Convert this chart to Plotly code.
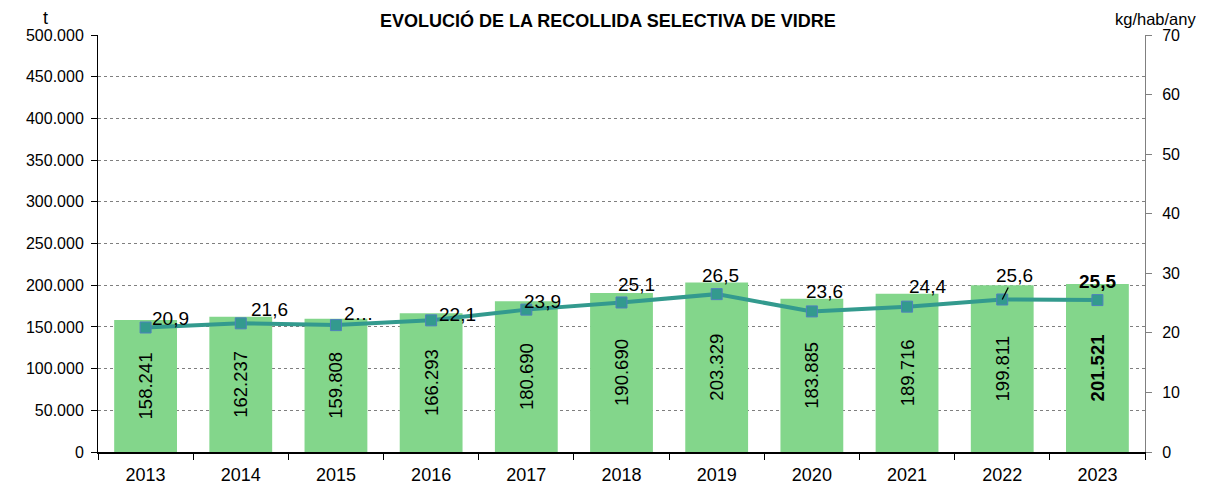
import plotly.graph_objects as go

years = ["2013", "2014", "2015", "2016", "2017", "2018", "2019", "2020", "2021", "2022", "2023"]
tonnes = [158241, 162237, 159808, 166293, 180690, 190690, 203329, 183885, 189716, 199811, 201521]
tonnes_labels = ["158.241", "162.237", "159.808", "166.293", "180.690", "190.690", "203.329",
                 "183.885", "189.716", "199.811", "<b>201.521</b>"]
kg_hab = [20.9, 21.6, 21.3, 22.1, 23.9, 25.1, 26.5, 23.6, 24.4, 25.6, 25.5]
kg_labels = ["20,9", "21,6", "2…", "22,1", "23,9", "25,1", "26,5", "23,6", "24,4", "25,6", "<b>25,5</b>"]

# label placement offsets (pixels) relative to each marker
label_dx = [25, 29, 23, 26, 16, 15, 4, 13, 20, 12, 0]
label_dy = [9, 14, 12, 6, 8, 18, 19, 20, 20, 24, 19]
label_leader = [False] * 9 + [True, False]

fig = go.Figure()
fig.add_trace(go.Bar(
    x=years, y=tonnes, text=tonnes_labels, textposition="inside",
    insidetextanchor="middle", textangle=-90,
    textfont=dict(family="Arial", size=18.5, color="black"),
    marker=dict(color="#83D68B", line=dict(width=0)), width=0.66,
    yaxis="y", showlegend=False, cliponaxis=False))
fig.add_trace(go.Scatter(
    x=years, y=kg_hab, mode="lines+markers",
    line=dict(color="#339A8E", width=4),
    marker=dict(symbol="square", size=11, color="#339A8E", line=dict(color="#4F81BD", width=1)),
    yaxis="y2", showlegend=False, cliponaxis=False))

for i, (yr, v, lab) in enumerate(zip(years, kg_hab, kg_labels)):
    if label_leader[i]:
        fig.add_annotation(x=i, y=v, xref="x", yref="y2", text=lab,
                           showarrow=True, arrowhead=0, arrowwidth=1.3, arrowcolor="black",
                           standoff=0, ax=label_dx[i], ay=-label_dy[i],
                           font=dict(family="Arial", size=19, color="black"))
    else:
        fig.add_annotation(x=i, y=v, xref="x", yref="y2", text=lab, showarrow=False,
                           xanchor="center", yanchor="middle",
                           xshift=label_dx[i], yshift=label_dy[i],
                           font=dict(family="Arial", size=19, color="black"))

fig.add_annotation(x=0.487, y=1.0, xref="paper", yref="paper", yshift=27,
                   text="<b>EVOLUCIÓ DE LA RECOLLIDA SELECTIVA DE VIDRE</b>",
                   showarrow=False, xanchor="center", yanchor="top",
                   font=dict(family="Arial", size=18, color="black"))
fig.add_annotation(x=-0.05, y=1.0, xref="paper", yref="paper", yshift=29,
                   text="t", showarrow=False, xanchor="center", yanchor="top",
                   font=dict(family="Arial", size=18, color="black"))
fig.add_annotation(x=1.0105, y=1.0, xref="paper", yref="paper", yshift=27,
                   text="kg/hab/any", showarrow=False, xanchor="center", yanchor="top",
                   font=dict(family="Arial", size=16.5, color="black"))

fig.update_layout(
    width=1222, height=478,
    margin=dict(l=90, r=85, t=27, b=34, autoexpand=False),
    paper_bgcolor="white", plot_bgcolor="white",
    separators=",.",
    font=dict(family="Arial", size=16, color="black"),
    xaxis=dict(type="category", range=[-0.5, 10.5], tickson="boundaries", ticks="outside", ticklen=6,
               tickcolor="black", showline=True, linecolor="black", linewidth=2, tickangle=0,
               ticklabelstandoff=5,
               showgrid=False, tickfont=dict(size=18), automargin=False),
    yaxis=dict(range=[0, 500000], dtick=50000, tickformat=",d", ticks="outside", ticklen=6,
               tickcolor="black", showline=True, linecolor="black", linewidth=1,
               showgrid=True, gridcolor="#7F7F7F", griddash="dot", gridwidth=1,
               ticklabelstandoff=4,
               zeroline=False, tickfont=dict(size=16), automargin=False),
    yaxis2=dict(range=[0, 70], dtick=10, overlaying="y", side="right", ticks="outside",
                ticklen=6, tickcolor="#808080", showline=True, linecolor="#808080",
                ticklabelstandoff=7,
                showgrid=False, zeroline=False, tickfont=dict(size=16), automargin=False),
    bargap=0.34,
)

fig.write_html("out.html")
